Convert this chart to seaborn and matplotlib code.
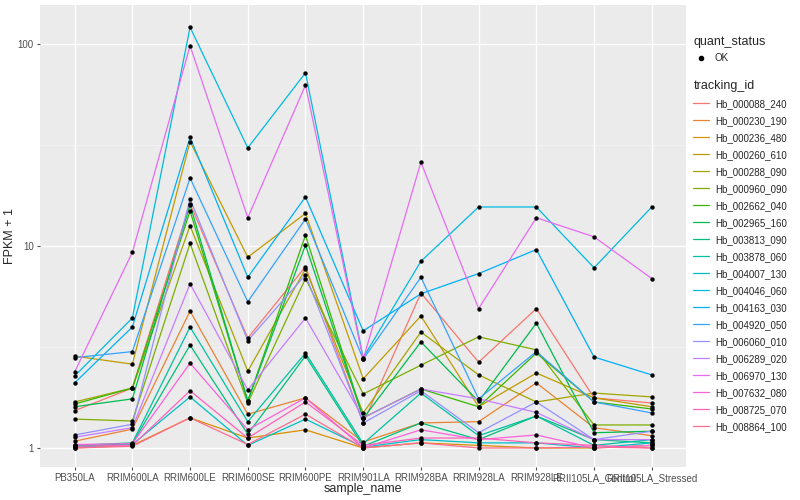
import numpy as np
import pandas as pd
import matplotlib
matplotlib.use("Agg")
import matplotlib.pyplot as plt
from matplotlib.lines import Line2D
import seaborn as sns

# --- Data (FPKM + 1) ---
samples = ["PB350LA", "RRIM600LA", "RRIM600LE", "RRIM600SE", "RRIM600PE",
           "RRIM901LA", "RRIM928BA", "RRIM928LA", "RRIM928LE",
           "RRII105LA_Control", "RRII105LA_Stressed"]

tracking_ids = ["Hb_000088_240", "Hb_000230_190", "Hb_000236_480", "Hb_000260_610",
                "Hb_000288_090", "Hb_000960_090", "Hb_002662_040", "Hb_002965_160",
                "Hb_003813_090", "Hb_003878_060", "Hb_004007_130", "Hb_004046_060",
                "Hb_004163_030", "Hb_004920_050", "Hb_006060_010", "Hb_006289_020",
                "Hb_006970_130", "Hb_007632_080", "Hb_008725_070", "Hb_008864_100"]

fpkm_000088_240 = [1.53, 1.98, 16.2, 3.5, 7.9, 1.33, 5.85, 2.66, 4.9, 1.77, 1.67]
fpkm_000230_190 = [1.08, 1.24, 4.76, 1.47, 1.77, 1.07, 1.33, 1.35, 2.1, 1.26, 1.15]
fpkm_000236_480 = [1.0, 1.03, 1.41, 1.12, 1.23, 1.0, 1.06, 1.03, 1.0, 1.0, 1.03]
fpkm_000260_610 = [2.85, 2.6, 32.9, 8.8, 14.5, 2.2, 4.5, 1.6, 2.35, 1.77, 1.6]
fpkm_000288_090 = [1.69, 1.98, 12.6, 2.4, 7.7, 1.49, 3.75, 2.3, 1.69, 1.87, 1.79]
fpkm_000960_090 = [1.39, 1.36, 10.3, 1.67, 6.9, 1.85, 2.57, 3.55, 3.06, 1.3, 1.3]
fpkm_002662_040 = [1.65, 1.98, 14.9, 1.71, 11.3, 1.41, 1.96, 1.6, 2.95, 1.69, 1.56]
fpkm_002965_160 = [1.6, 1.75, 16.0, 1.71, 10.1, 1.4, 3.35, 1.7, 4.15, 1.19, 1.21]
fpkm_003813_090 = [1.02, 1.05, 3.23, 1.17, 2.86, 1.02, 1.33, 1.1, 1.44, 1.1, 1.06]
fpkm_003878_060 = [1.03, 1.06, 3.97, 1.35, 2.95, 1.05, 1.87, 1.15, 1.44, 1.03, 1.1]
fpkm_004007_130 = [1.01, 1.04, 1.79, 1.03, 1.39, 1.01, 1.1, 1.06, 1.06, 1.0, 1.06]
fpkm_004046_060 = [2.27, 4.4, 121, 30.6, 72, 2.8, 8.4, 15.6, 15.6, 7.8, 15.6]
fpkm_004163_030 = [2.1, 3.97, 34.5, 7.0, 17.5, 3.8, 5.8, 7.3, 9.6, 2.82, 2.3]
fpkm_004920_050 = [2.8, 3.0, 21.7, 5.3, 13.6, 2.75, 7.0, 1.75, 3.0, 1.69, 1.49]
fpkm_006060_010 = [1.16, 1.31, 17.1, 3.4, 7.2, 1.33, 1.92, 1.19, 1.69, 1.1, 1.21]
fpkm_006289_020 = [1.13, 1.26, 6.5, 1.94, 4.4, 1.41, 1.96, 1.75, 1.5, 1.1, 1.1]
fpkm_006970_130 = [2.38, 9.3, 98, 13.8, 62.6, 2.75, 26, 4.9, 13.8, 11.1, 6.9]
fpkm_007632_080 = [1.04, 1.05, 2.63, 1.23, 1.77, 1.0, 1.23, 1.1, 1.16, 1.0, 1.03]
fpkm_008725_070 = [1.02, 1.03, 1.92, 1.12, 1.69, 1.03, 1.12, 1.12, 1.06, 1.03, 1.0]
fpkm_008864_100 = [1.0, 1.02, 1.41, 1.04, 1.47, 1.0, 1.06, 1.0, 1.0, 1.01, 1.0]

series = [fpkm_000088_240, fpkm_000230_190, fpkm_000236_480, fpkm_000260_610,
          fpkm_000288_090, fpkm_000960_090, fpkm_002662_040, fpkm_002965_160,
          fpkm_003813_090, fpkm_003878_060, fpkm_004007_130, fpkm_004046_060,
          fpkm_004163_030, fpkm_004920_050, fpkm_006060_010, fpkm_006289_020,
          fpkm_006970_130, fpkm_007632_080, fpkm_008725_070, fpkm_008864_100]

# ggplot2 default hue palette for 20 levels
hue_colors = ["#F8766D", "#EA8331", "#D89000", "#C09B00", "#A3A500", "#7CAE00",
              "#39B600", "#00BB4E", "#00BF7D", "#00C1A3", "#00BFC4", "#00BAE0",
              "#00B0F6", "#35A2FF", "#9590FF", "#C77CFF", "#E76BF3", "#FA62DB",
              "#FF62BC", "#FF6C91"]

rows = []
for tid, vals in zip(tracking_ids, series):
    for s, v in zip(samples, vals):
        rows.append({"tracking_id": tid, "sample_name": s, "fpkm": v})
df = pd.DataFrame(rows)
df["x"] = df["sample_name"].map({s: i for i, s in enumerate(samples)})

# --- Plot ---
sns.set_theme(style="darkgrid", rc={
    "axes.facecolor": "#EBEBEB",
    "grid.color": "white",
    "figure.facecolor": "white",
})
plt.rcParams["font.family"] = ["Liberation Sans", "DejaVu Sans"]

fig = plt.figure(figsize=(8, 5), dpi=100)
ax = fig.add_axes([0.05, 0.066, 0.808, 0.924])

sns.lineplot(data=df, x="x", y="fpkm", hue="tracking_id", palette=hue_colors,
             hue_order=tracking_ids, ax=ax, linewidth=0.9, legend=False,
             estimator=None, sort=True)
sns.scatterplot(data=df, x="x", y="fpkm", color="black", s=10, linewidth=0,
                ax=ax, legend=False, zorder=5)

ax.set_yscale("log")
ax.set_yticks([1, 10, 100])
ax.set_yticklabels(["1", "10", "100"])
ax.set_yticks([10 ** 0.5, 10 ** 1.5], minor=True)
ax.set_xticks(range(len(samples)))
ax.set_xticklabels(samples)
# limits last so the tick calls don't widen them
ax.set_ylim(0.805, 156)
ax.set_xlim(-0.6, 10.6)
ax.grid(True, which="major", color="white", linewidth=1.0)
ax.grid(True, which="minor", color="#F5F5F5", linewidth=0.5)
ax.tick_params(axis="both", which="major", labelsize=7, colors="#4D4D4D",
               length=2.5, width=0.8, left=True, bottom=True, pad=2)
ax.tick_params(axis="y", which="minor", left=False)
for lab in ax.get_xticklabels() + ax.get_yticklabels():
    lab.set_color("#4D4D4D")
for sp in ax.spines.values():
    sp.set_visible(False)
ax.set_xlabel("sample_name", fontsize=9, labelpad=0)
ax.set_ylabel("FPKM + 1", fontsize=9, labelpad=1)

# --- Legends ---
ok_handle = [Line2D([], [], marker="o", color="black", linestyle="",
                    markersize=3)]
leg1 = fig.legend(ok_handle, ["OK"], title="quant_status", loc="upper left",
                  bbox_to_anchor=(0.862, 0.935), frameon=False, fontsize=7,
                  title_fontsize=9, handlelength=1.6, handletextpad=0.6,
                  borderaxespad=0)
leg1._legend_box.align = "left"

line_handles = [Line2D([], [], color=c, linewidth=0.9) for c in hue_colors]
leg2 = fig.legend(line_handles, tracking_ids, title="tracking_id", loc="upper left",
                  bbox_to_anchor=(0.862, 0.848), frameon=False, fontsize=7,
                  title_fontsize=9, handlelength=1.6, handletextpad=0.6,
                  labelspacing=0.72, borderaxespad=0)
leg2._legend_box.align = "left"

fig.savefig("out.png", dpi=100)
